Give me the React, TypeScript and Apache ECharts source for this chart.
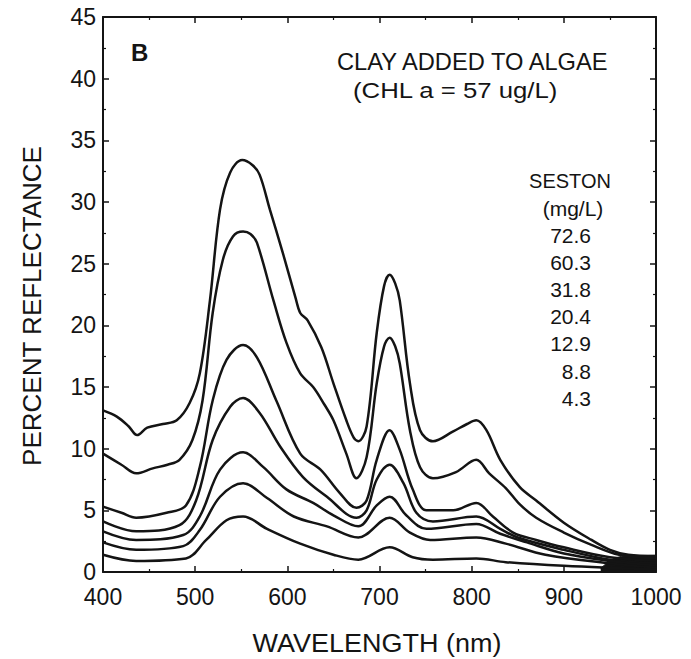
import React, { useEffect, useRef } from "react";
import * as echarts from "echarts";

// Wavelength (nm) / percent reflectance pairs, one array per seston concentration (mg/L)
const seston72_6: [number, number][] = [
  [400, 13.1], [415, 12.6], [428, 11.8], [437, 11.1], [448, 11.7], [465, 12.0], [480, 12.3], [494, 13.7],
  [505, 16.1], [516, 22.0], [527, 29.4], [538, 32.4], [551, 33.4], [562, 33.0], [570, 32.2], [581, 29.4],
  [595, 25.9], [609, 22.2], [614, 21.0], [622, 20.4], [637, 18.2], [650, 15.3], [664, 12.3], [672, 10.9],
  [677, 10.6], [686, 11.8], [697, 19.4], [705, 23.2], [711, 24.1], [717, 23.4], [722, 22.0], [733, 15.3],
  [744, 11.5], [758, 10.6], [780, 11.4], [795, 12.0], [805, 12.3], [816, 11.5], [831, 9.1], [852, 6.9],
  [870, 5.8], [900, 4.0], [930, 2.6], [950, 1.8], [970, 1.4], [1000, 1.3],
];
const seston60_3: [number, number][] = [
  [400, 9.6], [420, 8.7], [436, 8.0], [454, 8.4], [470, 8.7], [483, 9.1], [497, 10.7], [508, 13.9],
  [519, 21.0], [530, 25.3], [541, 27.2], [552, 27.6], [560, 27.4], [567, 26.7], [585, 22.0], [599, 18.6],
  [614, 16.1], [628, 15.0], [640, 13.6], [650, 12.3], [664, 9.6], [675, 7.6], [686, 9.3], [697, 15.3],
  [705, 18.3], [711, 19.0], [717, 18.3], [722, 16.9], [733, 11.5], [744, 8.5], [758, 7.6], [783, 8.1],
  [805, 9.1], [819, 8.0], [837, 6.8], [852, 5.5], [870, 4.4], [900, 3.2], [930, 2.2], [960, 1.4], [1000, 1.1],
];
const seston31_8: [number, number][] = [
  [400, 5.3], [420, 4.8], [436, 4.4], [469, 4.8], [490, 5.4], [505, 8.5], [519, 13.9], [534, 17.2],
  [552, 18.4], [567, 17.4], [588, 13.9], [614, 9.6], [636, 8.3], [657, 6.4], [675, 5.2], [686, 5.8],
  [697, 9.1], [711, 11.5], [722, 9.9], [736, 6.7], [751, 5.0], [780, 5.0], [805, 5.6], [823, 4.5],
  [845, 3.2], [870, 2.6], [900, 2.0], [950, 1.2], [1000, 0.9],
];
const seston20_4: [number, number][] = [
  [400, 4.1], [436, 3.3], [483, 3.8], [501, 5.8], [519, 10.7], [538, 13.4], [552, 14.1], [570, 12.9],
  [592, 10.2], [617, 7.7], [643, 6.1], [675, 4.4], [686, 5.0], [697, 7.5], [711, 8.7], [726, 7.2],
  [740, 4.8], [758, 4.1], [805, 4.5], [831, 3.5], [850, 2.8], [900, 1.8], [950, 1.0], [1000, 0.7],
];
const seston12_9: [number, number][] = [
  [400, 3.3], [436, 2.6], [487, 3.0], [505, 4.5], [527, 8.3], [552, 9.7], [574, 8.5], [599, 6.7],
  [628, 5.6], [650, 4.6], [677, 3.7], [697, 5.4], [711, 6.1], [729, 4.6], [751, 3.5], [805, 3.9],
  [831, 3.1], [860, 2.4], [900, 1.5], [950, 0.9], [1000, 0.5],
];
const seston8_8: [number, number][] = [
  [400, 2.4], [436, 1.8], [487, 2.1], [505, 3.4], [527, 6.1], [552, 7.2], [578, 6.0], [607, 4.5],
  [643, 3.7], [677, 2.8], [711, 4.4], [733, 3.2], [755, 2.6], [805, 2.8], [837, 2.3], [880, 1.4],
  [950, 0.7], [1000, 0.35],
];
const seston4_3: [number, number][] = [
  [400, 1.4], [436, 0.9], [490, 1.1], [512, 2.6], [534, 4.2], [552, 4.5], [578, 3.5], [614, 2.3],
  [650, 1.4], [677, 1.0], [711, 2.0], [736, 1.2], [758, 1.0], [805, 1.1], [837, 0.8], [900, 0.5],
  [1000, 0.2],
];
// Where the curves merge into a solid dark band at the long-wavelength end
const mergedBand: [number, number][] = [[940, 0.3], [952, 1.0], [966, 1.3], [1000, 1.35]];

const curves = [seston72_6, seston60_3, seston31_8, seston20_4, seston12_9, seston8_8, seston4_3];
const sestonLabels = ["72.6", "60.3", "31.8", "20.4", "12.9", "8.8", "4.3"];

const FONT = "'Liberation Sans', Arial, Helvetica, sans-serif";
const INK = "#141414";

export default function App() {
  const ref = useRef<HTMLDivElement>(null);
  useEffect(() => {
    if (!ref.current) return;
    const chart = echarts.init(ref.current, null, { renderer: "svg" });
    const line = { show: true, onZero: false, lineStyle: { color: INK, width: 2 } };
    const tick = { show: true, inside: true, length: 6, lineStyle: { color: INK, width: 1.5 } };
    const minor = { show: true, splitNumber: 2, length: 3, lineStyle: { color: INK, width: 1.2 } };
    const label = { fontSize: 23, color: INK, fontFamily: FONT, formatter: (v: number) => String(v) };
    const xBase = { type: "value", min: 400, max: 1000, interval: 100, axisLine: line, axisTick: tick, minorTick: minor, splitLine: { show: false } };
    const yBase = { type: "value", min: 0, max: 45, interval: 5, axisLine: line, axisTick: tick, minorTick: minor, splitLine: { show: false } };

    const texts: any[] = [
      { type: "text", x: 131, y: 52, style: { text: "B", fontSize: 24, fontWeight: "bold", fontFamily: FONT, fill: INK, align: "left", verticalAlign: "middle" } },
      { type: "text", x: 337, y: 62, scaleX: 1.03, style: { text: "CLAY ADDED TO ALGAE", fontSize: 23, fontFamily: FONT, fill: INK, align: "left", verticalAlign: "middle" } },
      { type: "text", x: 353, y: 90, scaleX: 1.12, style: { text: "(CHL a = 57 ug/L)", fontSize: 23, fontFamily: FONT, fill: INK, align: "left", verticalAlign: "middle" } },
      { type: "text", x: 570, y: 181, style: { text: "SESTON", fontSize: 20, fontFamily: FONT, fill: INK, align: "center", verticalAlign: "middle" } },
      { type: "text", x: 573, y: 208, style: { text: "(mg/L)", fontSize: 21, fontFamily: FONT, fill: INK, align: "center", verticalAlign: "middle" } },
      { type: "text", x: 377, y: 643, scaleX: 1.08, style: { text: "WAVELENGTH (nm)", fontSize: 25, fontFamily: FONT, fill: INK, align: "center", verticalAlign: "middle" } },
      { type: "text", x: 32, y: 306, rotation: Math.PI / 2, style: { text: "PERCENT REFLECTANCE", fontSize: 26, fontFamily: FONT, fill: INK, align: "center", verticalAlign: "middle" } },
    ];
    sestonLabels.forEach((t, i) => {
      texts.push({ type: "text", x: 591, y: 235 + i * 27.2, style: { text: t, fontSize: 21, fontFamily: FONT, fill: INK, align: "right", verticalAlign: "middle" } });
    });

    const series: any[] = curves.map((d, i) => ({
      name: sestonLabels[i],
      type: "line",
      data: d,
      showSymbol: false,
      smooth: 0.35,
      lineStyle: { color: INK, width: 2.5 },
      z: 3,
    }));
    series.push({
      name: "merged",
      type: "line",
      data: mergedBand,
      showSymbol: false,
      smooth: 0.3,
      lineStyle: { color: INK, width: 1 },
      areaStyle: { color: INK, opacity: 1, origin: "start" },
      z: 2,
    });

    chart.setOption({
      animation: false,
      backgroundColor: "#ffffff",
      grid: { left: 103, top: 17, right: 35, bottom: 87, containLabel: false },
      xAxis: [
        { ...xBase, position: "bottom", axisLabel: { ...label, margin: 13 } },
        { ...xBase, position: "top", axisLabel: { show: false } },
      ],
      yAxis: [
        { ...yBase, position: "left", axisLabel: { ...label, margin: 7 } },
        { ...yBase, position: "right", axisLabel: { show: false } },
      ],
      graphic: texts,
      series,
    });
    return () => chart.dispose();
  }, []);
  return <div ref={ref} style={{ position: "fixed", left: 0, top: 0, width: 691, height: 659 }} />;
}
